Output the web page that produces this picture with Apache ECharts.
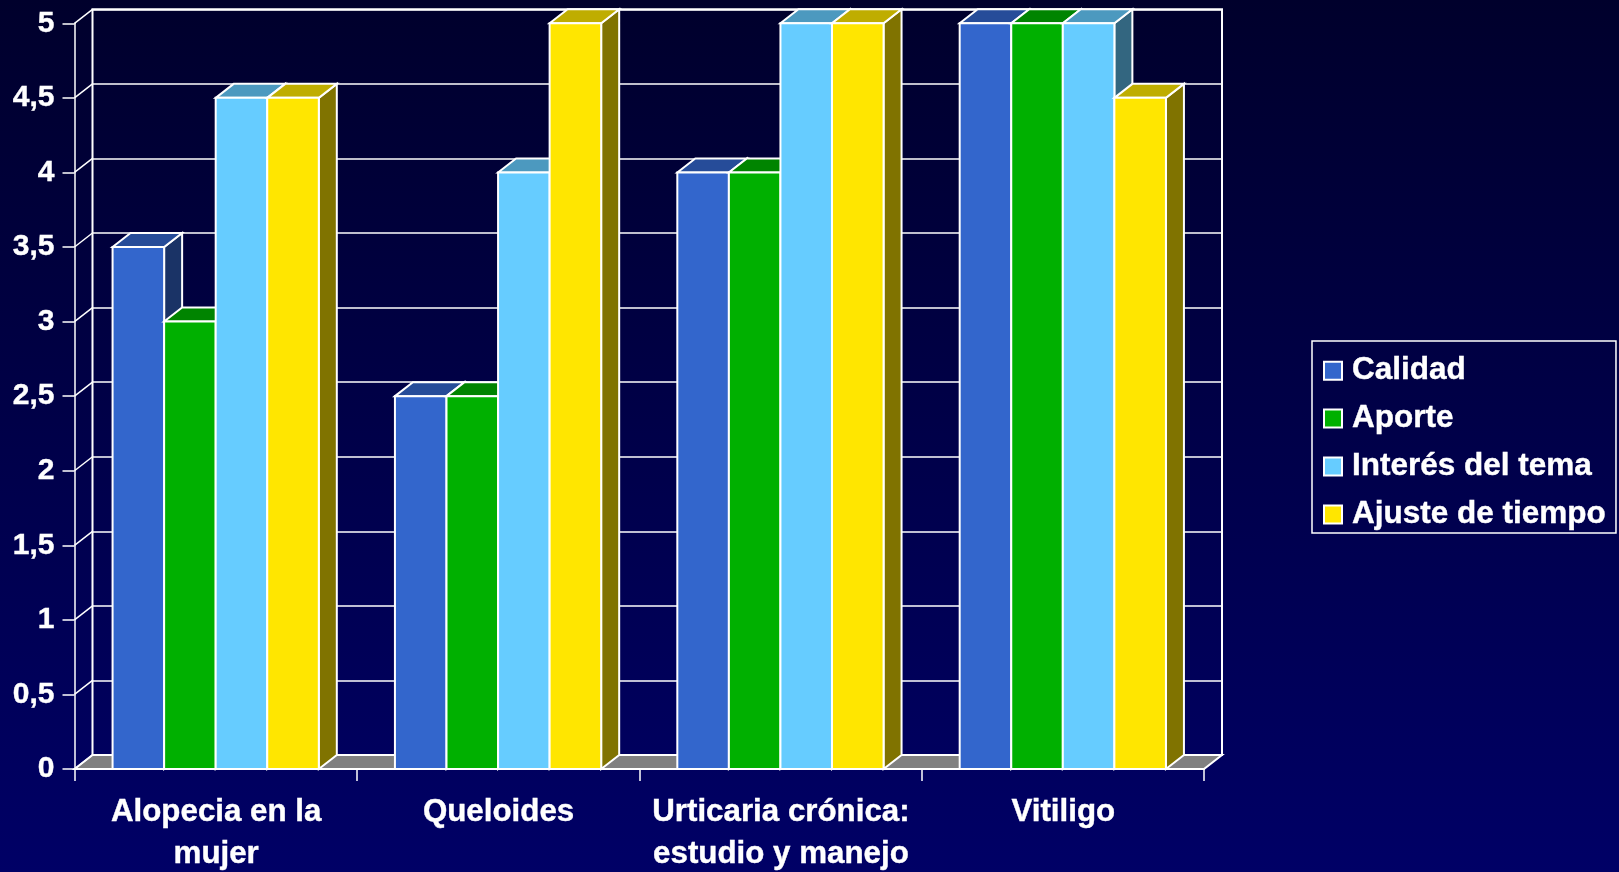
<!DOCTYPE html>
<html>
<head>
<meta charset="utf-8">
<title>Evaluacion</title>
<style>
html,body{margin:0;padding:0;background:#000050;}
#chart{width:1619px;height:872px;}
</style>
<script src="https://cdn.jsdelivr.net/npm/echarts@6/dist/echarts.min.js"></script>
</head>
<body>
<div id="chart"></div>
<script>
var categories = ['Alopecia en la\nmujer', 'Queloides', 'Urticaria crónica:\nestudio y manejo', 'Vitiligo'];
var calidad = [3.5, 2.5, 4, 5];
var aporte = [3, 2.5, 4, 5];
var interes = [4.5, 4, 5, 5];
var ajuste = [4.5, 5, 5, 4.5];
var tickValues = [0, 0.5, 1, 1.5, 2, 2.5, 3, 3.5, 4, 4.5, 5];
var tickLabels = ['0', '0,5', '1', '1,5', '2', '2,5', '3', '3,5', '4', '4,5', '5'];

var DEPTH_X = 18, DEPTH_Y = 14, BAR_RATIO = 0.1826;
var LINE = '#ffffff';
var font = '"Liberation Sans", Arial, sans-serif';

var myChart = echarts.init(document.getElementById('chart'));

function barSeries(name, data, index, front, top, side){
    return {
        name: name,
        type: 'custom',
        xAxisIndex: 0,
        yAxisIndex: 0,
        z: 5,
        clip: false,
        itemStyle: {color: front, borderColor: LINE, borderWidth: 1.5},
        data: data.map(function(v, i){ return [i, v]; }),
        encode: {x: 0, y: 1},
        renderItem: function(params, api){
            var p = api.coord([api.value(0), api.value(1)]);
            var base = api.coord([api.value(0), 0]);
            var w = api.size([1, 0])[0] * BAR_RATIO;
            var x0 = p[0] - 2 * w + index * w;
            var x1 = x0 + w;
            var y0 = p[1], y1 = base[1];
            var stroke = {stroke: LINE, lineWidth: 2};
            function poly(pts, color){
                return {type: 'polygon', shape: {points: pts}, style: Object.assign({fill: color}, stroke)};
            }
            return {type: 'group', children: [
                poly([[x1, y0], [x1 + DEPTH_X, y0 - DEPTH_Y], [x1 + DEPTH_X, y1 - DEPTH_Y], [x1, y1]], side),
                poly([[x0, y0], [x0 + DEPTH_X, y0 - DEPTH_Y], [x1 + DEPTH_X, y0 - DEPTH_Y], [x1, y0]], top),
                poly([[x0, y0], [x1, y0], [x1, y1], [x0, y1]], front)
            ]};
        }
    };
}

// floor of the box
var floorSeries = {
    type: 'custom',
    xAxisIndex: 0,
    yAxisIndex: 0,
    z: 2,
    clip: false,
    silent: true,
    data: [[0, 0]],
    renderItem: function(params, api){
        var c = params.coordSys;
        var y = api.coord([0, 0])[1];
        return {type: 'polygon', shape: {points: [
            [c.x, y], [c.x + DEPTH_X, y - DEPTH_Y],
            [c.x + c.width + DEPTH_X, y - DEPTH_Y], [c.x + c.width, y]
        ]}, style: {fill: '#808080', stroke: LINE, lineWidth: 2}};
    }
};

// short diagonals from the front axis to the back wall
var wallSeries = {
    type: 'custom',
    xAxisIndex: 0,
    yAxisIndex: 0,
    z: 3,
    clip: false,
    silent: true,
    data: tickValues.map(function(v){ return [0, v]; }),
    renderItem: function(params, api){
        var y = api.coord([0, api.value(1)])[1];
        var x = params.coordSys.x;
        return {type: 'line', shape: {x1: x, y1: y, x2: x + DEPTH_X, y2: y - DEPTH_Y},
            style: {stroke: LINE, lineWidth: 1.5}};
    }
};

var option = {
    backgroundColor: new echarts.graphic.LinearGradient(0, 0, 0, 1, [
        {offset: 0, color: '#00002c'},
        {offset: 1, color: '#000066'}
    ]),
    animation: false,
    textStyle: {fontFamily: font},
    legend: {
        orient: 'vertical',
        left: 1312,
        top: 341,
        padding: [13.5, 10, 2.5, 11],
        itemGap: 15.5,
        itemWidth: 18,
        itemHeight: 18,
        icon: 'rect',
        borderColor: LINE,
        borderWidth: 1.5,
        data: ['Calidad', 'Aporte', 'Interés del tema', 'Ajuste de tiempo'],
        textStyle: {color: '#fff', fontSize: 31.5, fontWeight: 'bold', fontFamily: font, padding: [0, 0, 0, 5],
            textBorderColor: '#fff', textBorderWidth: 0.4}
    },
    grid: [
        {left: 74.5, top: 23.3, width: 1129.5, height: 745.7, outerBoundsMode: 'none'},
        {left: 92.5, top: 9.3, width: 1129.5, height: 745.7, outerBoundsMode: 'none', show: true, borderColor: LINE, borderWidth: 2}
    ],
    xAxis: [
        {
            type: 'category',
            gridIndex: 0,
            data: categories,
            axisLine: {lineStyle: {color: LINE, width: 2}},
            axisTick: {show: true, length: 12, lineStyle: {color: LINE, width: 1.5}},
            axisLabel: {color: '#fff', fontSize: 31.3, fontWeight: 'bold', fontFamily: font, margin: 22, lineHeight: 42, interval: 0,
                padding: [0, 0, 0, 1], textBorderColor: '#fff', textBorderWidth: 0.4}
        },
        {
            type: 'category',
            gridIndex: 1,
            data: categories,
            axisLine: {show: false},
            axisTick: {show: false},
            axisLabel: {show: false}
        }
    ],
    yAxis: [
        {
            type: 'value',
            gridIndex: 0,
            min: 0,
            max: 5,
            interval: 0.5,
            axisLine: {show: true, lineStyle: {color: LINE, width: 1.5}},
            axisTick: {show: true, length: 12, lineStyle: {color: LINE, width: 1.5}},
            splitLine: {show: false},
            axisLabel: {
                color: '#fff', fontSize: 30, fontWeight: 'bold', fontFamily: font, margin: 20,
                verticalAlign: 'middle', verticalAlignMinLabel: 'middle', verticalAlignMaxLabel: 'middle',
                textBorderColor: '#fff', textBorderWidth: 0.4,
                formatter: function(v){ return tickLabels[tickValues.indexOf(v)]; }
            }
        },
        {
            type: 'value',
            gridIndex: 1,
            min: 0,
            max: 5,
            interval: 0.5,
            axisLine: {show: false},
            axisTick: {show: false},
            axisLabel: {show: false},
            splitLine: {show: true, lineStyle: {color: LINE, width: 1.5}}
        }
    ],
    series: [
        floorSeries,
        wallSeries,
        barSeries('Calidad', calidad, 0, '#3366cc', '#264c99', '#1a3366'),
        barSeries('Aporte', aporte, 1, '#00b000', '#008400', '#005800'),
        barSeries('Interés del tema', interes, 2, '#66ccff', '#4c99bf', '#336680'),
        barSeries('Ajuste de tiempo', ajuste, 3, '#ffe600', '#bfad00', '#807300')
    ]
};

myChart.setOption(option);
</script>
</body>
</html>
